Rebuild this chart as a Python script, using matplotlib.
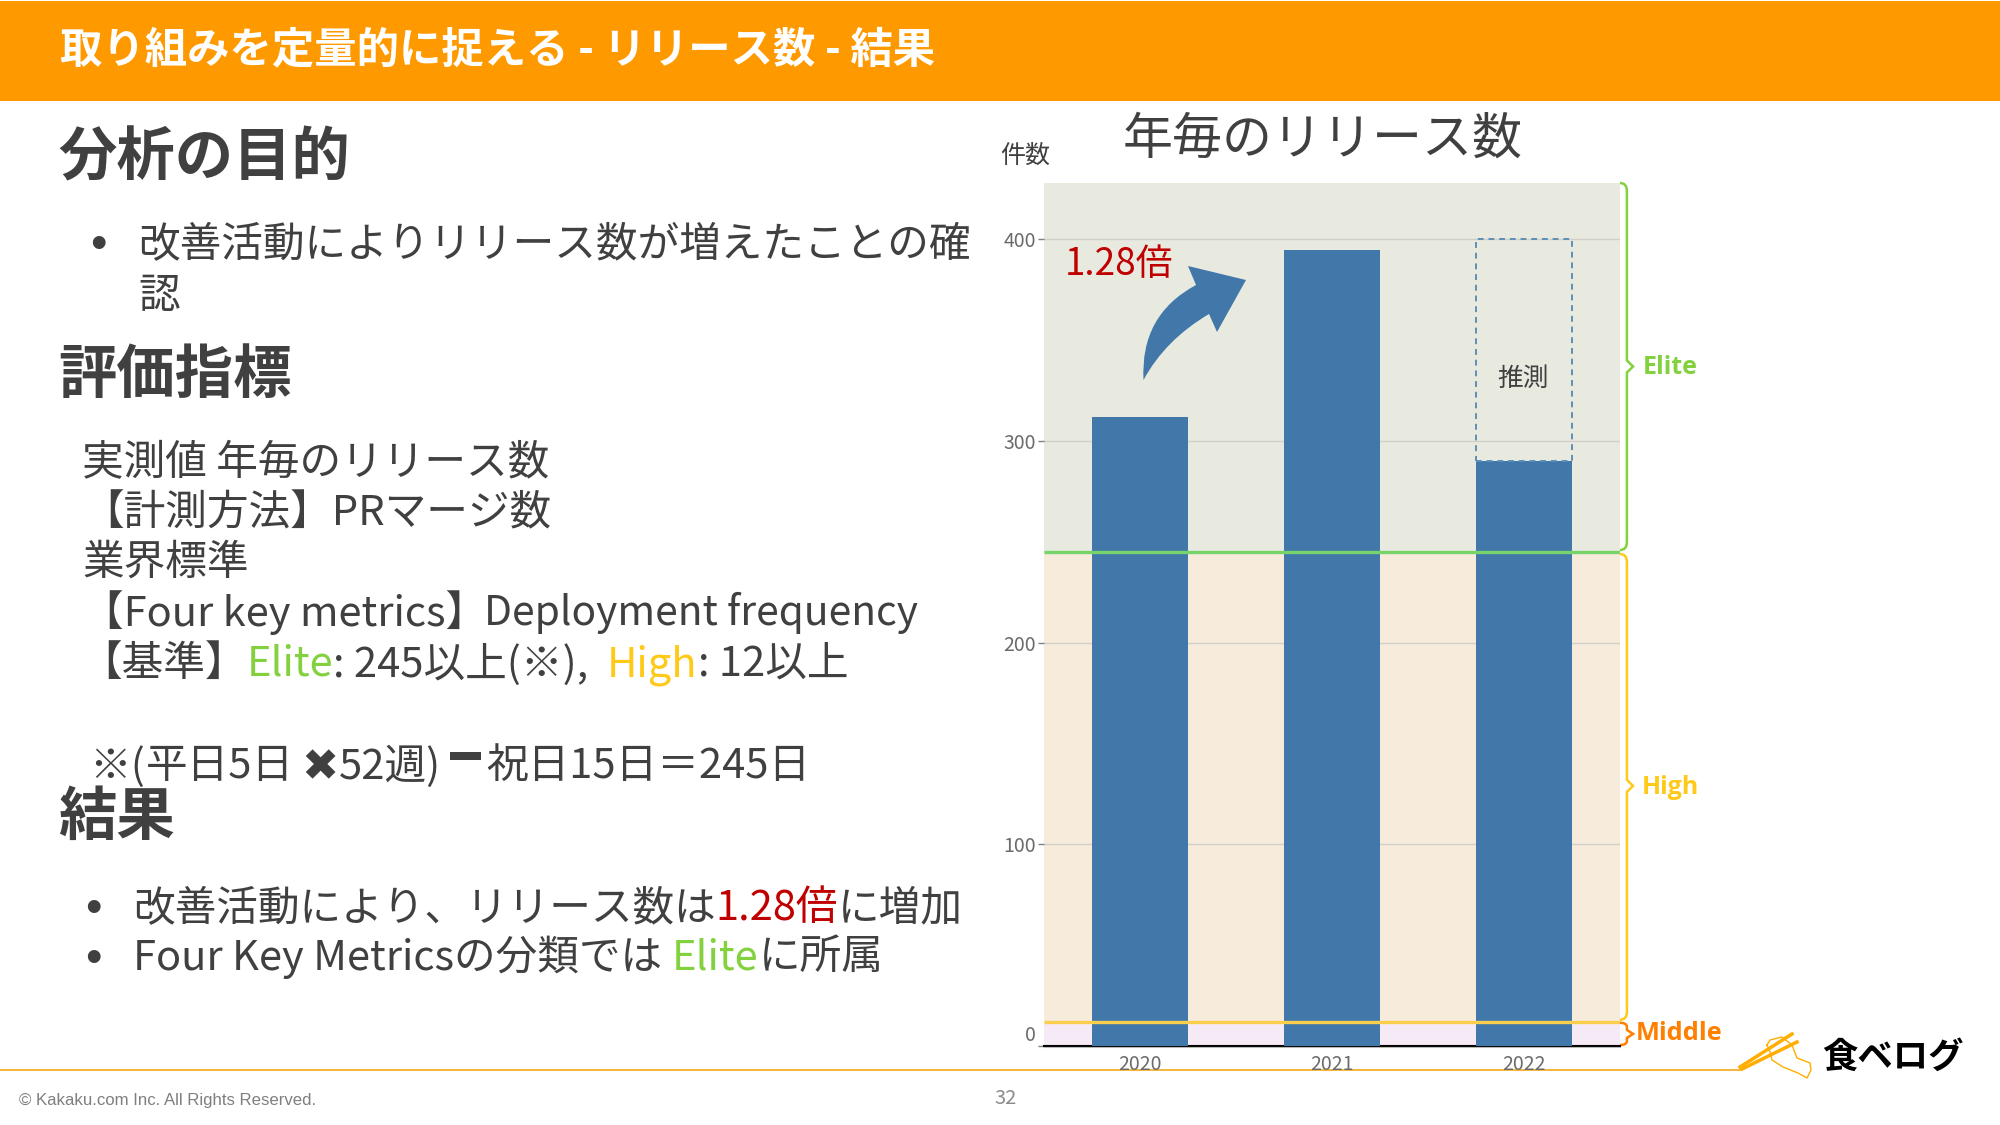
import matplotlib
matplotlib.use("Agg")
import matplotlib.pyplot as plt
from matplotlib.path import Path
from matplotlib.patches import PathPatch, Rectangle

JP = ['Noto Sans CJK JP', 'DejaVu Sans']
plt.rcParams['font.family'] = JP

# データ
years = ['2020', '2021', '2022']
releases = [312, 395, 290]
estimate_2022 = 400
y_ticks = [0, 100, 200, 300, 400]
y_top = 428
elite_min = 245
high_min = 12

TEXT = '#404040'
BLUE = '#4278a9'
ORANGE = '#ff9900'
GREEN = '#84d13f'
YELLOW = '#ffc91a'
RED = '#c00000'

W, H = 2000, 1125
fig = plt.figure(figsize=(20, 11.25), dpi=100)

# スライド全体はピクセル座標で置く
bg = fig.add_axes([0, 0, 1, 1])
bg.set_xlim(0, W)
bg.set_ylim(H, 0)
bg.axis('off')

bg.add_patch(Rectangle((0, 1), W, 100, color=ORANGE, lw=0))
bg.text(60, 50, '取り組みを定量的に捉える - リリース数 - 結果', color='white', fontsize=30.5,
        fontweight='bold', va='center')


def rich(x, y, parts, size=30):
    # 色の違う文字列を横に並べる
    r = fig.canvas.get_renderer()
    for s, c in parts:
        t = bg.text(x, y, s, color=c, fontsize=size, va='center_baseline')
        x += t.get_window_extent(r).width
    return x


def bullet(x, y):
    bg.text(x, y, '•', color=TEXT, fontsize=34, ha='center', va='center_baseline',
            family='Liberation Sans')


for s, y in [('分析の目的', 152), ('評価指標', 370), ('結果', 811)]:
    bg.text(58, y, s, color=TEXT, fontsize=42, fontweight='bold', va='center_baseline')

bullet(98, 241)
rich(138, 241, [('改善活動によりリリース数が増えたことの確', TEXT)])
rich(138, 292, [('認', TEXT)])

rich(82, 459, [('実測値 年毎のリリース数', TEXT)])
rich(82, 509, [('【計測方法】PRマージ数', TEXT)])
rich(82, 559, [('業界標準', TEXT)])
rich(82, 608, [('【Four key metrics】', TEXT)])
rich(484, 608, [('Deployment frequency', TEXT)], size=29.3)
rich(80, 660, [('【基準】', TEXT), ('Elite', GREEN), (': 245以上(※), ', TEXT)])
rich(607, 660, [('High', YELLOW), (': 12以上', TEXT)])

# 太いマイナス記号はどのフォントにもないので図形で描く
rich(89, 762, [('※(', TEXT)])
rich(146, 762, [('平日5日', TEXT)])
rich(301, 762, [('✖', TEXT)], size=32)
rich(339, 762, [('52週)', TEXT)])
bg.add_patch(Rectangle((450, 752), 31, 8, color=TEXT, lw=0))
rich(486, 762, [('祝日15日＝245日', TEXT)])

bullet(93, 905)
rich(133, 904, [('改善活動により、リリース数は', TEXT), ('1.28倍', RED), ('に増加', TEXT)])
bullet(93, 955)
rich(133, 953, [('Four Key Metricsの分類では', TEXT)])
rich(672, 953, [('Elite', GREEN), ('に所属', TEXT)])

# フッター
bg.plot([0, 1740], [1069.5, 1069.5], color='#f5a81c', lw=1.2)
bg.text(19, 1100, '© Kakaku.com Inc. All Rights Reserved.', color='#7f7f7f', fontsize=12.1,
        family='Liberation Sans', va='center')
bg.text(1006, 1098, '32', color='#8c8c8c', fontsize=14.5, ha='center', va='center')

# ロゴ
bg.plot([1740, 1792], [1067, 1034], color='#ffae00', lw=2.5)
bg.plot([1742, 1797], [1069, 1042], color='#ffae00', lw=2.5)
bg.plot([1767, 1770, 1782, 1792, 1797, 1810, 1811, 1807, 1798, 1783, 1772, 1770, 1767],
        [1045, 1040, 1037, 1045, 1058, 1063, 1070, 1078, 1073, 1067, 1060, 1052, 1045],
        color='#ffae00', lw=1)
bg.text(1893, 1057, '食ベログ', color='black', fontsize=25.5, fontweight='bold',
        ha='center', va='center')

bg.text(1025, 156, '件数', color=TEXT, fontsize=18, ha='center', va='center')
bg.text(1323, 140, '年毎のリリース数', color=TEXT, fontsize=36, ha='center', va='center')

# グラフ本体
ax = fig.add_axes([1044 / W, 1 - 1046 / H, 576 / W, 863 / H])
x = list(range(len(years)))
ax.set_xlim(-0.5, 2.5)
ax.set_ylim(0, y_top)
ax.axhspan(elite_min, y_top, color='#e8eae0', lw=0, zorder=0)
ax.axhspan(high_min, elite_min, color='#f7ecdc', lw=0, zorder=0)
ax.axhspan(0, high_min, color='#f5eaf5', lw=0, zorder=0)
ax.grid(axis='y', color='#cfcfc8', lw=1, zorder=1)
ax.set_axisbelow(True)
ax.bar(x, releases, width=0.5, color=BLUE, zorder=2)
ax.bar(x[2], estimate_2022 - releases[2], width=0.5, bottom=releases[2], fill=False,
       edgecolor='#5c8fb8', ls=(0, (3, 2.5)), lw=1.4, zorder=3)
ax.axhline(elite_min, color='#77d46a', lw=2.4, zorder=4, solid_capstyle='butt')
ax.axhline(high_min, color='#fbcf4d', lw=2.4, zorder=4, solid_capstyle='butt')
ax.plot([-0.5, 2.5], [0, 0], color='black', lw=1.5, zorder=1.5, clip_on=False)

for s in ['top', 'right', 'left']:
    ax.spines[s].set_visible(False)
ax.spines['bottom'].set_color('#b8b8b8')
ax.spines['bottom'].set_position(('outward', 1))
ax.set_xticks(x, years)
ax.set_yticks(y_ticks, [str(v) for v in y_ticks])
ax.tick_params(axis='x', length=0, pad=5, labelsize=14, labelcolor='#6b6b6b')
ax.tick_params(axis='y', length=4, width=1, color='#808080', pad=2, labelsize=14,
               labelcolor='#6b6b6b')
ax.get_yticklabels()[0].set_va('bottom')

ax.text(1.995, 331, '推測', color=TEXT, fontsize=18.5, ha='center', va='center')


def brace(lo, hi, mid, color, d=4, tip=3):
    # 右側の波括弧
    x0, x1, x2 = 2.5, 2.536, 2.568
    verts = [(x0, hi), (x1, hi), (x1, hi - d), (x1, mid + tip), (x2, mid),
             (x1, mid - tip), (x1, lo + d), (x1, lo), (x0, lo)]
    codes = [Path.MOVETO, Path.CURVE3, Path.CURVE3, Path.LINETO, Path.LINETO,
             Path.LINETO, Path.LINETO, Path.CURVE3, Path.CURVE3]
    ax.add_patch(PathPatch(Path(verts, codes), fill=False, edgecolor=color, lw=1.8, clip_on=False))


brace(elite_min + 1, y_top, 337, GREEN)
brace(high_min + 1, elite_min - 1, 129, YELLOW)
brace(0.5, 11.5, 6, '#ff8000', d=2, tip=2)

bg.text(1643, 367, 'Elite', color=GREEN, fontsize=18, fontweight='bold', va='center',
        family='Open Sans')
bg.text(1642, 788, 'High', color=YELLOW, fontsize=18, fontweight='bold', va='center',
        family='Open Sans')
bg.text(1636, 1034, 'Middle', color='#ff8000', fontsize=18.3, fontweight='bold', va='center',
        family='Open Sans')

# 1.28倍の矢印
over = fig.add_axes([0, 0, 1, 1])
over.set_xlim(0, W)
over.set_ylim(H, 0)
over.axis('off')
over.text(1065, 265, '1.28倍', color=RED, fontsize=26.5, va='center')
arrow_codes = [Path.MOVETO, Path.CURVE3, Path.CURVE3, Path.LINETO, Path.LINETO, Path.LINETO,
               Path.LINETO, Path.CURVE3, Path.CURVE3, Path.CLOSEPOLY]
arrow = [(1143.5, 380), (1140, 315), (1196, 285), (1188, 266), (1246, 280), (1217, 332),
         (1209, 314), (1165, 340), (1143.5, 380), (1143.5, 380)]
over.add_patch(PathPatch(Path(arrow, arrow_codes), color=BLUE, lw=0))

fig.savefig('out.png', dpi=100)
